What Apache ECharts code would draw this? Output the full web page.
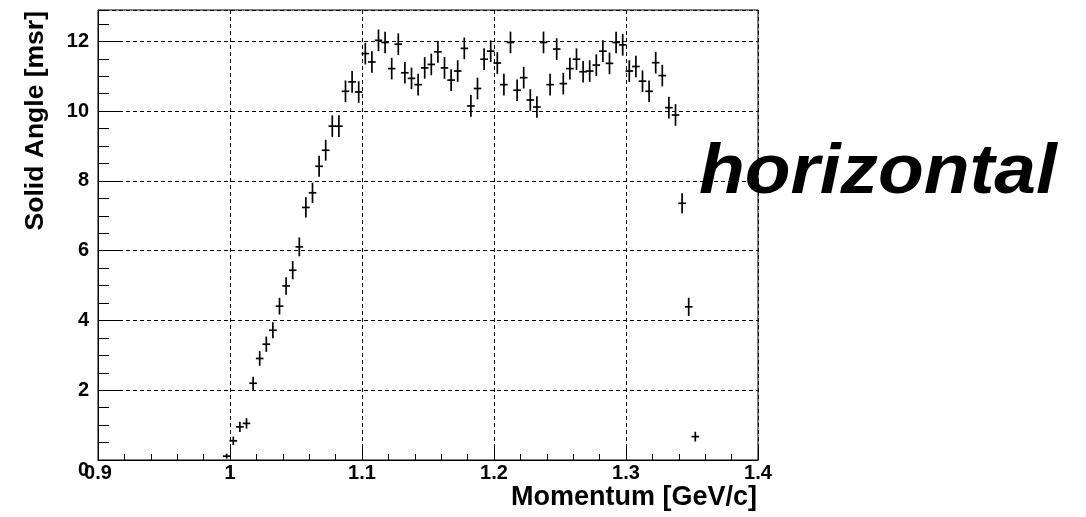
<!DOCTYPE html>
<html>
<head>
<meta charset="utf-8">
<script src="https://cdn.jsdelivr.net/npm/echarts@6/dist/echarts.min.js"></script>
<style>
  html, body { margin: 0; padding: 0; background: #fff; }
  #chart { width: 1086px; height: 517px; }
</style>
</head>
<body>
<div id="chart"></div>
<script>
// Momentum bin centres [GeV/c]
const momentum = [
  0.9975, 1.0025, 1.0075, 1.0125, 1.0175, 1.0225, 1.0275, 1.0325, 1.0375, 1.0425,
  1.0475, 1.0525, 1.0575, 1.0625, 1.0675, 1.0725, 1.0775, 1.0825, 1.0875, 1.0925,
  1.0975, 1.1025, 1.1075, 1.1125, 1.1175, 1.1225, 1.1275, 1.1325, 1.1375, 1.1425,
  1.1475, 1.1525, 1.1575, 1.1625, 1.1675, 1.1725, 1.1775, 1.1825, 1.1875, 1.1925,
  1.1975, 1.2025, 1.2075, 1.2125, 1.2175, 1.2225, 1.2275, 1.2325, 1.2375, 1.2425,
  1.2475, 1.2525, 1.2575, 1.2625, 1.2675, 1.2725, 1.2775, 1.2825, 1.2875, 1.2925,
  1.2975, 1.3025, 1.3075, 1.3125, 1.3175, 1.3225, 1.3275, 1.3325, 1.3375, 1.3425,
  1.3475, 1.3525
];
// Solid angle per bin [msr]
const solidAngle = [
  0.11, 0.55, 0.95, 1.05, 2.20, 2.91, 3.32, 3.72, 4.41, 4.99,
  5.44, 6.11, 7.24, 7.66, 8.42, 8.88, 9.57, 9.57, 10.57, 10.84,
  10.55, 11.65, 11.41, 12.03, 11.97, 11.22, 11.92, 11.10, 10.94, 10.76,
  11.24, 11.34, 11.70, 11.24, 10.89, 11.15, 11.80, 10.15, 10.65, 11.49,
  11.72, 11.38, 10.76, 11.97, 10.60, 10.96, 10.32, 10.12, 11.97, 10.76,
  11.78, 10.79, 11.22, 11.49, 11.13, 11.15, 11.32, 11.72, 11.37, 11.97,
  11.90, 11.15, 11.28, 10.86, 10.57, 11.39, 11.02, 10.10, 9.89, 7.36,
  4.39, 0.67
];
// Statistical error per bin [msr]
const solidAngleErr = [
  0.07, 0.12, 0.15, 0.15, 0.19, 0.21, 0.22, 0.23, 0.24, 0.25,
  0.26, 0.27, 0.29, 0.29, 0.30, 0.30, 0.31, 0.31, 0.31, 0.31,
  0.31, 0.31, 0.31, 0.31, 0.31, 0.31, 0.31, 0.31, 0.31, 0.31,
  0.31, 0.31, 0.31, 0.31, 0.31, 0.31, 0.31, 0.31, 0.31, 0.31,
  0.31, 0.31, 0.31, 0.31, 0.31, 0.31, 0.31, 0.31, 0.31, 0.31,
  0.31, 0.31, 0.31, 0.31, 0.31, 0.31, 0.31, 0.31, 0.31, 0.31,
  0.31, 0.31, 0.31, 0.31, 0.31, 0.31, 0.31, 0.31, 0.31, 0.29,
  0.26, 0.14
];
const binHalfWidth = 0.0025;

const xTitle = 'Momentum [GeV/c]';
const yTitle = 'Solid Angle [msr]';
const note = 'horizontal';

const FONT = '"Liberation Sans", Arial, Helvetica, sans-serif';
const points = momentum.map((m, i) => [m, solidAngle[i], solidAngleErr[i]]);

const chart = echarts.init(document.getElementById('chart'), null, { renderer: 'canvas' });

const tickStyle = { color: '#000', width: 1 };

chart.setOption({
  animation: false,
  backgroundColor: '#fff',
  grid: {
    left: 98, top: 10, width: 660, height: 450,
    show: true, borderColor: '#000', borderWidth: 1, backgroundColor: 'transparent'
  },
  xAxis: {
    type: 'value', min: 0.9, max: 1.4, interval: 0.1,
    axisLine: { show: true, lineStyle: tickStyle },
    axisTick: { show: true, inside: true, length: 12, lineStyle: tickStyle },
    minorTick: { show: true, splitNumber: 5, length: 6, lineStyle: tickStyle },
    axisLabel: {
      color: '#000', fontFamily: FONT, fontWeight: 'bold', fontSize: 20, margin: 3,
      hideOverlap: false, showMinLabel: true, showMaxLabel: true,
      formatter: v => String(Math.round(v * 10) / 10)
    },
    splitLine: { show: true, lineStyle: { color: '#000', width: 1, type: [4, 3] } }
  },
  yAxis: [{
    type: 'value', min: 0, max: 12.9, interval: 2,
    axisLine: { show: true, lineStyle: tickStyle },
    axisTick: { show: true, inside: true, length: 23, lineStyle: tickStyle },
    axisLabel: {
      color: '#000', fontFamily: FONT, fontWeight: 'bold', fontSize: 20, margin: 9,
      hideOverlap: false, showMaxLabel: false,
      formatter: v => {
        if (Math.abs(v % 2) > 1e-9) return '';
        return v === 0 ? '{zero|0}' : String(v);
      },
      rich: {
        zero: { color: '#000', fontFamily: FONT, fontWeight: 'bold', fontSize: 20, padding: [20, 0, 0, 0] }
      }
    },
    splitLine: { show: true, lineStyle: { color: '#000', width: 1, type: [4, 3] } }
  }, {
    // secondary axis carrying the 0.5 msr minor ticks
    type: 'value', min: 0, max: 12.9, interval: 0.5, position: 'left',
    axisLine: { show: false },
    axisTick: { show: true, inside: true, length: 11, lineStyle: tickStyle },
    axisLabel: { show: false },
    splitLine: { show: false }
  }],
  series: [{
    type: 'custom',
    xAxisIndex: 0, yAxisIndex: 0,
    clip: true,
    z: 5,
    data: points,
    renderItem: (params, api) => {
      const x = api.value(0), y = api.value(1), e = api.value(2);
      const c = api.coord([x, y]);
      const top = api.coord([x, y + e]);
      const bot = api.coord([x, Math.max(0, y - e)]);
      const l = api.coord([x - binHalfWidth, y]);
      const r = api.coord([x + binHalfWidth, y]);
      const st = { stroke: '#000', lineWidth: 1.7 };
      return {
        type: 'group',
        children: [
          { type: 'line', shape: { x1: c[0], y1: top[1], x2: c[0], y2: bot[1] }, style: st },
          { type: 'line', shape: { x1: l[0] - 0.5, y1: c[1], x2: r[0] + 0.5, y2: c[1] }, style: st }
        ]
      };
    }
  }],
  graphic: [
    {
      type: 'text', x: 757, y: 498,
      style: { text: xTitle, fill: '#000', font: 'bold 27px ' + FONT, align: 'right', verticalAlign: 'middle' }
    },
    {
      type: 'text', x: 36, y: 11, rotation: Math.PI / 2,
      style: { text: yTitle, fill: '#000', font: 'bold 26.5px ' + FONT, align: 'right', verticalAlign: 'middle' }
    },
    {
      type: 'text', x: 699, y: 139, scaleX: 1.07, z: 100,
      style: { text: note, fill: '#000', font: 'italic bold 70px ' + FONT, align: 'left', verticalAlign: 'top' }
    }
  ]
});
</script>
</body>
</html>
